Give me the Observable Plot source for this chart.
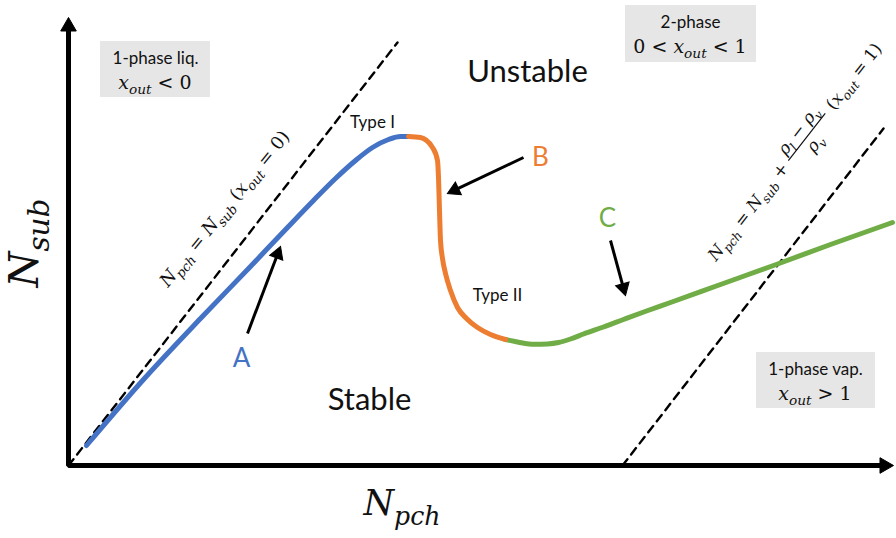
<!DOCTYPE html>
<html><head><meta charset="utf-8">
<script src="https://cdn.jsdelivr.net/npm/d3@7"></script>
<script src="https://cdn.jsdelivr.net/npm/@observablehq/plot@0.6"></script>
<style>body{margin:0;background:#fff;} svg{display:block}</style>
</head><body><div id="chart"></div>
<script>
// ---- data (schematic units: Npch to the right, Nsub upward) ----
const blueCurve = [[18,20],[75,86],[132,147],[182,199],[219,238],[245,265],[267,287],[287,305],[304,318],[320,326],[332,329],[340,329]];
const orangeCurve = [[340,329],[352,328],[364,318],[369,305],[370,288],[371,255],[372,225],[374,207],[377,192],[382,175],[389,158],[398,147],[409,138],[422,131],[437,126]];
const greenCurve = [[437,126],[450,123.3],[466,121.2],[479,121.6],[490,123],[502,126.5],[515,131.5],[535,138.5],[555,146],[578,154.5],[602,163],[652,181],[705,200],[762,221],[824,243]];
const zeroQualityLine = [[0,0],[329,423]];
const unitQualityLine = [[554,0],[815,337]];
const axisEnds = {x: 824, y: 447};
const regionBoxes = [
  {x1: 32, x2: 142, y1: 368, y2: 424},
  {x1: 557, x2: 688, y1: 403, y2: 460},
  {x1: 688, x2: 807, y1: 57, y2: 113}
];
const boxTitles = ["1-phase liq.", "2-phase", "1-phase vap."];
const curveLetters = ["A", "B", "C"];
const letterArrows = [
  {x1: 179, y1: 132, x2: 212, y2: 219},
  {x1: 455, y1: 308, x2: 379, y2: 272},
  {x1: 542, y1: 225, x2: 557, y2: 170}
];
const regionLabels = ["Unstable", "Stable"];
const typeLabels = ["Type I", "Type II"];

// ---- layout ----
const COLORS = {A: "#4472C4", B: "#ED7D31", C: "#70AD47"};
const SANS = "Lato, 'Open Sans', sans-serif";
const MATH = "'DejaVu Serif', serif";
const letterPos = [{x: 173, y: 107}, {x: 472, y: 308}, {x: 539, y: 247}];
const regionPos = [{x: 459, y: 393}, {x: 301, y: 65}];
const typePos = [{x: 304, y: 343}, {x: 429, y: 170}];
const boxTitlePos = [{x: 87, y: 407}, {x: 622, y: 443}, {x: 747, y: 96}];

const px = d => d[0], py = d => d[1];

function headFor(a, len) {
  const dx = a.x2 - a.x1, dy = a.y2 - a.y1, L = Math.hypot(dx, dy);
  const ux = dx / L, uy = dy / L;
  return {x: a.x2 - ux * len, y: a.y2 - uy * len, rot: Math.atan2(dx, dy) * 180 / Math.PI,
          lx: a.x2 - ux * len * 1.2, ly: a.y2 - uy * len * 1.2};
}
const heads = letterArrows.map(a => Object.assign({}, a, headFor(a, 8)));
const axisHeads = [
  {x: 0, y: axisEnds.y - 8, rot: 0},
  {x: axisEnds.x - 8, y: 0, rot: 90}
];

const plot = Plot.plot({
  width: 896, height: 538,
  marginLeft: 68, marginRight: 4, marginTop: 4, marginBottom: 73,
  x: {domain: [0, 824], axis: null},
  y: {domain: [0, 461], axis: null},
  style: {background: "white", fontFamily: SANS, overflow: "visible"},
  marks: [
    Plot.rect(regionBoxes, {x1: "x1", x2: "x2", y1: "y1", y2: "y2", fill: "#e7e6e6"}),
    Plot.text(boxTitles, {x: (d, i) => boxTitlePos[i].x, y: (d, i) => boxTitlePos[i].y, text: d => d, fontSize: 17, fill: "#111"}),
    Plot.line(zeroQualityLine, {x: px, y: py, stroke: "black", strokeWidth: 2.4, strokeDasharray: "8,6"}),
    Plot.line(unitQualityLine, {x: px, y: py, stroke: "black", strokeWidth: 2.4, strokeDasharray: "8,6"}),
    Plot.line(blueCurve, {x: px, y: py, stroke: COLORS.A, strokeWidth: 5, curve: "monotone-x"}),
    Plot.line(greenCurve, {x: px, y: py, stroke: COLORS.C, strokeWidth: 5, curve: "monotone-x"}),
    Plot.line(orangeCurve, {x: px, y: py, stroke: COLORS.B, strokeWidth: 5, curve: "monotone-x"}),
    // axes
    Plot.line([[0, axisEnds.y - 10], [0, 0], [axisEnds.x - 10, 0]], {x: px, y: py, stroke: "black", strokeWidth: 5, strokeLinejoin: "miter"}),
    Plot.dot(axisHeads, {x: "x", y: "y", rotate: "rot", symbol: "triangle", r: 5.8, fill: "black", stroke: "black", strokeWidth: 1}),
    // annotation arrows
    Plot.link(heads, {x1: "x1", y1: "y1", x2: "lx", y2: "ly", stroke: "black", strokeWidth: 3}),
    Plot.dot(heads, {x: "x", y: "y", rotate: "rot", symbol: "triangle", r: 5.2, fill: "black", stroke: "black", strokeWidth: 1}),
    Plot.text(curveLetters, {x: (d, i) => letterPos[i].x, y: (d, i) => letterPos[i].y, text: d => d, fontSize: 26, fill: d => COLORS[d]}),
    Plot.text(regionLabels, {x: (d, i) => regionPos[i].x, y: (d, i) => regionPos[i].y, text: d => d, fontSize: 31, fill: "#111"}),
    Plot.text(typeLabels, {x: (d, i) => typePos[i].x, y: (d, i) => typePos[i].y, text: d => d, fontSize: 17, fill: "#111"})
  ]
});
document.getElementById("chart").appendChild(plot);

// ---- math annotations (positioned through the plot's scales) ----
const sx = v => plot.scale("x").apply(v), sy = v => plot.scale("y").apply(v);
const svg = d3.select(plot);

function addMath(g, parts, size, anchor, x, y) {
  const t = g.append("text").attr("font-family", MATH).attr("font-size", size)
    .attr("text-anchor", anchor || "start").attr("x", x || 0).attr("y", y || 0)
    .attr("fill", "#111").style("white-space", "pre");
  let shift = 0;
  for (const p of parts) {
    const target = p.s ? size * 0.28 : 0;
    const sp = t.append("tspan").text(p.t).attr("font-style", p.i ? "italic" : "normal")
      .attr("font-size", p.s ? size * 0.72 : size);
    if (target !== shift) { sp.attr("dy", target - shift); shift = target; }
  }
  return t;
}
const I = t => ({t, i: true}), S = t => ({t, i: true, s: true}), R = t => ({t});

const boxMath = [
  {x: 87, y: 382, parts: [I("x"), S("out"), R(" < 0")]},
  {x: 622, y: 418, parts: [R("0 < "), I("x"), S("out"), R(" < 1")]},
  {x: 747, y: 71, parts: [I("x"), S("out"), R(" > 1")]}
];
for (const b of boxMath) {
  addMath(svg, b.parts, 19, "middle", sx(b.x), sy(b.y) + 6);
}

// axis labels
addMath(svg.append("g").attr("transform", `translate(${sx(-30)},${sy(222)}) rotate(-90)`),
  [I("N"), S("sub")], 41, "middle", 0, 0);
addMath(svg, [I("N"), S("pch")], 35, "middle", sx(334), sy(-50));

// dashed-line formulas
const f1 = svg.append("g").attr("transform", `translate(${sx(100)},${sy(177)}) rotate(-51)`);
addMath(f1, [I("N"), S("pch"), R(" = "), I("N"), S("sub"), R(" ("), I("x"), S("out"), R(" = 0)")], 18, "start", 0, 0);

const f2 = svg.append("g").attr("transform", `translate(${sx(648)},${sy(203)}) rotate(-52)`);
const fs = 17;
const p1 = addMath(f2, [I("N"), S("pch"), R(" = "), I("N"), S("sub"), R(" + ")], fs, "start", 0, 0);
const w1 = p1.node().getComputedTextLength();
const num = addMath(f2, [I("ρ"), S("l"), R(" − "), I("ρ"), S("v")], fs, "start", w1 + 2, -fs * 0.6);
const wn = num.node().getComputedTextLength();
f2.append("line").attr("x1", w1).attr("x2", w1 + wn + 4).attr("y1", -fs * 0.32).attr("y2", -fs * 0.32)
  .attr("stroke", "#111").attr("stroke-width", 1.2);
addMath(f2, [I("ρ"), S("v")], fs, "middle", w1 + 2 + wn / 2, fs * 0.62);
addMath(f2, [R(" ("), I("x"), S("out"), R(" = 1)")], fs, "start", w1 + wn + 6, 0);
</script></body></html>
